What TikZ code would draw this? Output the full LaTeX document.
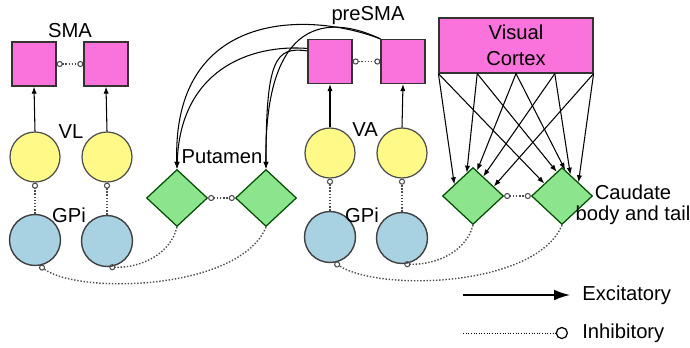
\documentclass[tikz,border=0pt]{standalone}
\usepackage{fontspec}
\setmainfont{Liberation Sans}
\usetikzlibrary{shapes.geometric,arrows.meta,calc}
\definecolor{cortexpink}{RGB}{250,115,220}
\definecolor{thalyellow}{RGB}{255,250,135}
\definecolor{gpiblue}{RGB}{168,210,226}
\definecolor{strigreen}{RGB}{140,228,140}
\begin{document}
\begin{tikzpicture}[x=0.02cm, y=-0.02cm,
	>={Latex[length=4pt,width=3pt]},
	font=\fontsize{11.5}{12}\selectfont,
	cortex/.style={draw=black!80, fill=cortexpink, line width=0.7pt, minimum size=0.88cm, inner sep=0pt},
	thal/.style={circle, draw=black!70, fill=thalyellow, line width=0.7pt, minimum size=1.0cm, inner sep=0pt},
	gpi/.style={circle, draw=black!75, fill=gpiblue, line width=0.8pt, minimum size=1.02cm, inner sep=0pt},
	stri/.style={diamond, draw=green!30!black, fill=strigreen, line width=0.7pt, minimum width=1.22cm, minimum height=1.14cm, inner sep=0pt},
	exc/.style={->, line width=0.6pt},
	inh/.style={densely dotted, line width=0.8pt, black!70, -{Circle[open,length=3.5pt,line width=0.6pt]}},
	inhh/.style={densely dotted, line width=0.8pt, black!70, {Circle[open,length=3.5pt,line width=0.6pt]}-{Circle[open,length=3.5pt,line width=0.6pt]}},
	lab/.style={inner sep=1pt}]
	
	\useasboundingbox (0,0) rectangle (690,348);
	
	% SMA, VL, GPi (left loop)
	\node[cortex] (s1) at (34,64) {};
	\node[cortex] (s2) at (106,64) {};
	\node[lab] (smalab) at (70,31) {SMA};
	\node[thal] (v1) at (35,157) {};
	\node[thal] (v2) at (107,157) {};
	\node[lab] (vllab) at (71,132) {VL};
	\node[gpi] (g1) at (35,240) {};
	\node[gpi] (g2) at (107,241) {};
	\node[lab] (gpilab) at (69,215) {GPi};
	
	% Putamen
	\node[stri] (p1) at (177,198) {};
	\node[stri] (p2) at (266,198) {};
	\node[lab] (putlab) at (222,157) {Putamen};
	
	% preSMA, VA, GPi (middle loop)
	\node[cortex] (q1) at (330,61.5) {};
	\node[cortex] (q2) at (403,61.5) {};
	\node[lab] (presmalab) at (368,16) {preSMA};
	\node[thal] (a1) at (330,153) {};
	\node[thal] (a2) at (402,153) {};
	\node[lab] (valab) at (365,130) {VA};
	\node[gpi] (h1) at (330,237) {};
	\node[gpi] (h2) at (402,238) {};
	\node[lab] (gpilab2) at (362,215) {GPi};
	
	% Caudate and visual cortex
	\node[stri] (c1) at (473,196) {};
	\node[stri] (c2) at (562,196) {};
	\node[lab, align=center] (caulab) at (633,205) {Caudate\\body and tail};
	\node[cortex, minimum width=3.08cm, minimum height=1.1cm, align=center] (vc) at (516,45.5) {Visual\\[2.5pt]Cortex};
	
	% thalamus -> cortex, GPi -| thalamus
	\foreach \a/\b in {v1/s1, v2/s2, a1/q1, a2/q2}
		\draw[exc] (\a.north) -- (\b.south);
	\foreach \a/\b in {g1/v1, g2/v2, h1/a1, h2/a2}
		\draw[inh] (\a.north) -- (\b.south);
	\foreach \a/\b in {s1/s2, q1/q2, p1/p2, c1/c2}
		\draw[inhh] (\a.east) -- (\b.west);
	
	% striatum -| GPi
	\draw[inh] (p2.south) .. controls (240,290) and (80,295) .. (g1.-80);
	\draw[inh] (p1.south) .. controls (170,255) and (140,268) .. (g2.-85);
	\draw[inh] (c2.south) .. controls (536,287) and (380,292) .. (h1.-80);
	\draw[inh] (c1.south) .. controls (466,252) and (436,265) .. (h2.-85);
	
	% preSMA -> putamen
	\draw[exc] (q2.north west) .. controls (305,10) and (172,12) .. (p1.north);
	\draw[exc] (q2.north west) .. controls (330,15) and (264,15) .. (p2.north);
	\draw[exc] (q1.150) .. controls (250,44) and (180,70) .. (p1.north);
	\draw[exc] (q1.155) .. controls (275,46) and (266,60) .. (p2.north);
	
	% visual cortex -> caudate
	\foreach \i/\f in {0/0, 1/0.25, 2/0.5, 3/0.75, 4/1}
		\coordinate (vs\i) at ($(vc.south west)!\f!(vc.south east)$);
	\foreach \i/\fl/\dl/\fr/\dr in {0/0.6/west/0.57/west, 1/0.2/west/0.17/west, 2/0.13/east/0.1/east, 3/0.33/east/0.27/east, 4/0.67/east/0.53/east} {
		\draw[exc] (vs\i) -- ($(c1.north)!\fl!(c1.\dl)$);
		\draw[exc] (vs\i) -- ($(c2.north)!\fr!(c2.\dr)$);
	}
	
	% legend
	\coordinate (exA) at (463,295);
	\node[anchor=west, inner sep=0pt] (exlab) at (582,295) {Excitatory};
	\draw[-{Latex[length=9pt,width=6pt]}, line width=0.8pt] (exA) -- ([xshift=-0.24cm]exlab.west);
	\coordinate (inA) at (463,333);
	\node[anchor=west, inner sep=0pt] (inlab) at (582,333) {Inhibitory};
	\draw[densely dotted, line width=0.5pt, -{Circle[open,length=7pt,line width=0.7pt]}] (inA) -- ([xshift=-0.28cm]inlab.west);
	
\end{tikzpicture}
\end{document}
